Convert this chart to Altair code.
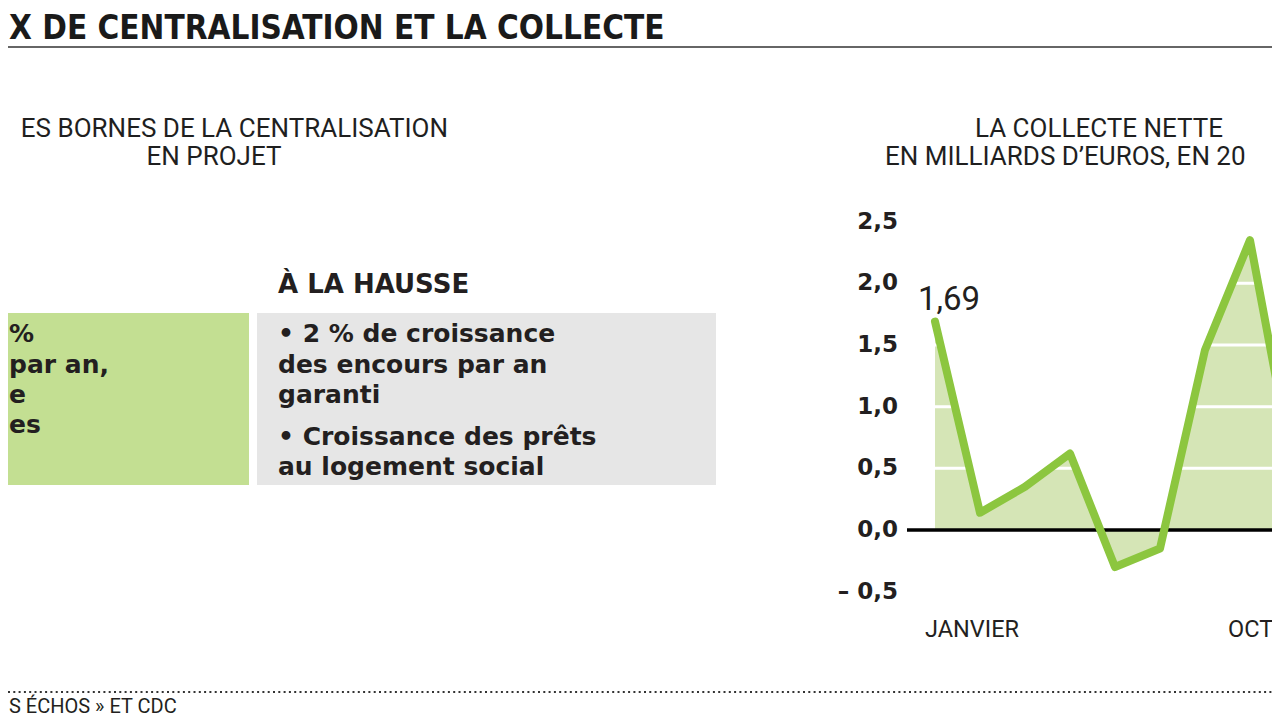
import altair as alt
import pandas as pd

# ---------------- data ----------------
months = [1, 2, 3, 4, 5, 6, 7, 8, 9]
collecte = [1.69, 0.14, 0.35, 0.62, -0.30, -0.15, 1.46, 2.35, 0.41]
y_ticks = [-0.5, 0.0, 0.5, 1.0, 1.5, 2.0, 2.5]
y_tick_labels = ["– 0,5", "0,0", "0,5", "1,0", "1,5", "2,0", "2,5"]
grid_values = [0.5, 1.0, 1.5, 2.0]
baseline_value = [0.0]
first_label = "1,69"
x_label_start = "JANVIER"
x_label_end = "OCT"

title_text = "X DE CENTRALISATION ET LA COLLECTE"
left_sub = ["ES BORNES DE LA CENTRALISATION", "EN PROJET"]
right_sub = ["LA COLLECTE NETTE", "EN MILLIARDS D’EUROS, EN 20"]
hausse_title = "À LA HAUSSE"
hausse_lines = ["• 2 % de croissance", "des encours par an", "garanti",
                "• Croissance des prêts", "au logement social"]
green_lines = ["%", "par an,", "e", "es"]
source_text = "S ÉCHOS » ET CDC"

# ---------------- layout ----------------
W, H = 1264, 712
OFF = 8  # page margin


def px(v):
    return v - OFF


one = pd.DataFrame({"a": [1]})

TITLE_FONT = "Liberation Sans Narrow, DejaVu Sans Condensed, Arial Narrow, sans-serif"
SUB_FONT = "Roboto, Noto Sans, sans-serif"
BOX_FONT = "DejaVu Sans, sans-serif"


def txt(text, x, y, size, font=SUB_FONT, weight="normal", align="left",
        color="#231f20"):
    return alt.Chart(one).mark_text(
        text=text, fontSize=size, font=font, fontWeight=weight,
        align=align, baseline="alphabetic", color=color
    ).encode(x=alt.value(px(x)), y=alt.value(px(y)))


def rect(x1, x2, y1, y2, color):
    return alt.Chart(one).mark_rect(color=color).encode(
        x=alt.value(px(x1)), x2=alt.value(px(x2)),
        y=alt.value(px(y1)), y2=alt.value(px(y2)))


# ---------------- decoration ----------------
title = txt(title_text, 9, 39, 33, font=TITLE_FONT, weight="bold", color="#1a1a1a")
title_rule = alt.Chart(one).mark_rule(color="#333333", strokeWidth=1.5).encode(
    x=alt.value(0), x2=alt.value(W), y=alt.value(px(47)))

sub_l1 = txt(left_sub[0], 448, 137, 26, align="right", color="#1f1f1f")
sub_l2 = txt(left_sub[1], 214, 165, 26, align="center", color="#1f1f1f")
sub_r1 = txt(right_sub[0], 1099, 137, 26, align="center", color="#1f1f1f")
sub_r2 = txt(right_sub[1], 885, 165, 26, align="left", color="#1f1f1f")

green_box = rect(0, 249, 313, 485, "#c3df92")
gray_box = rect(257, 716, 313, 485, "#e6e6e6")
hausse_t = txt(hausse_title, 278, 293, 26, font=BOX_FONT, weight="bold")
hausse_y = [342, 373, 403, 445, 475]
hausse_t_lines = [txt(t, 278, yy, 25, font=BOX_FONT, weight="bold")
                  for t, yy in zip(hausse_lines, hausse_y)]
green_y = [342, 373, 403, 433]
green_t = [txt(t, 9, yy, 25, font=BOX_FONT, weight="bold", align="left")
           for t, yy in zip(green_lines, green_y)]

dots = alt.Chart(one).mark_rule(color="#333333", strokeWidth=2, strokeDash=[2, 3.3]).encode(
    x=alt.value(0), x2=alt.value(W), y=alt.value(px(692)))
source = txt(source_text, 9, 713, 20, align="left")

# ---------------- line chart ----------------
xscale = alt.Scale(domain=[1, 8], range=[px(935), px(1250)], nice=False, zero=False)
yscale = alt.Scale(domain=[0, 2], range=[px(530), px(283.3)], nice=False, zero=False)

df = pd.DataFrame({"m": months, "v": collecte, "base": [baseline_value[0]] * len(months)})
df_grid = pd.DataFrame({"g": grid_values})
df_zero = pd.DataFrame({"z": baseline_value})
df_ticks = pd.DataFrame({"t": y_ticks, "lab": y_tick_labels})

X = alt.X("m:Q", scale=xscale, axis=None)
Y = alt.Y("v:Q", scale=yscale, axis=None)

area = alt.Chart(df).mark_area(color="#d5e5b6", opacity=1).encode(x=X, y=Y, y2="base:Q")
grid = alt.Chart(df_grid).mark_rule(color="white", strokeWidth=3).encode(
    y=alt.Y("g:Q", scale=yscale, axis=None),
    x=alt.value(px(929)), x2=alt.value(W))
zero = alt.Chart(df_zero).mark_rule(color="#000000", strokeWidth=3.5).encode(
    y=alt.Y("z:Q", scale=yscale, axis=None), x=alt.value(px(907)), x2=alt.value(W))
line = alt.Chart(df).mark_line(color="#8cc63f", strokeWidth=8,
                               strokeCap="round", strokeJoin="round").encode(x=X, y=Y)
ticks = alt.Chart(df_ticks).mark_text(
    align="right", baseline="middle", font=BOX_FONT, fontWeight="bold",
    fontSize=23, color="#231f20").encode(
    y=alt.Y("t:Q", scale=yscale, axis=None), x=alt.value(px(898)), text="lab:N")
first = alt.Chart(df.head(1)).mark_text(
    text=first_label, align="left", baseline="alphabetic", dx=-17, dy=-12,
    font=SUB_FONT, fontSize=33, color="#231f20").encode(x=X, y=Y)
xl1 = txt(x_label_start, 925, 637, 23.5)
xl2 = txt(x_label_end, 1228, 637, 23.5)

chart = alt.layer(
    title, title_rule, sub_l1, sub_l2, sub_r1, sub_r2,
    green_box, gray_box, hausse_t, *hausse_t_lines, *green_t,
    area, grid, zero, line, ticks, first, xl1, xl2,
    dots, source,
).properties(
    width=W, height=H, padding=0, autosize="none", background="white"
).configure_view(stroke=None)

chart.save("out.html", embed_options={"renderer": "svg", "actions": False})
